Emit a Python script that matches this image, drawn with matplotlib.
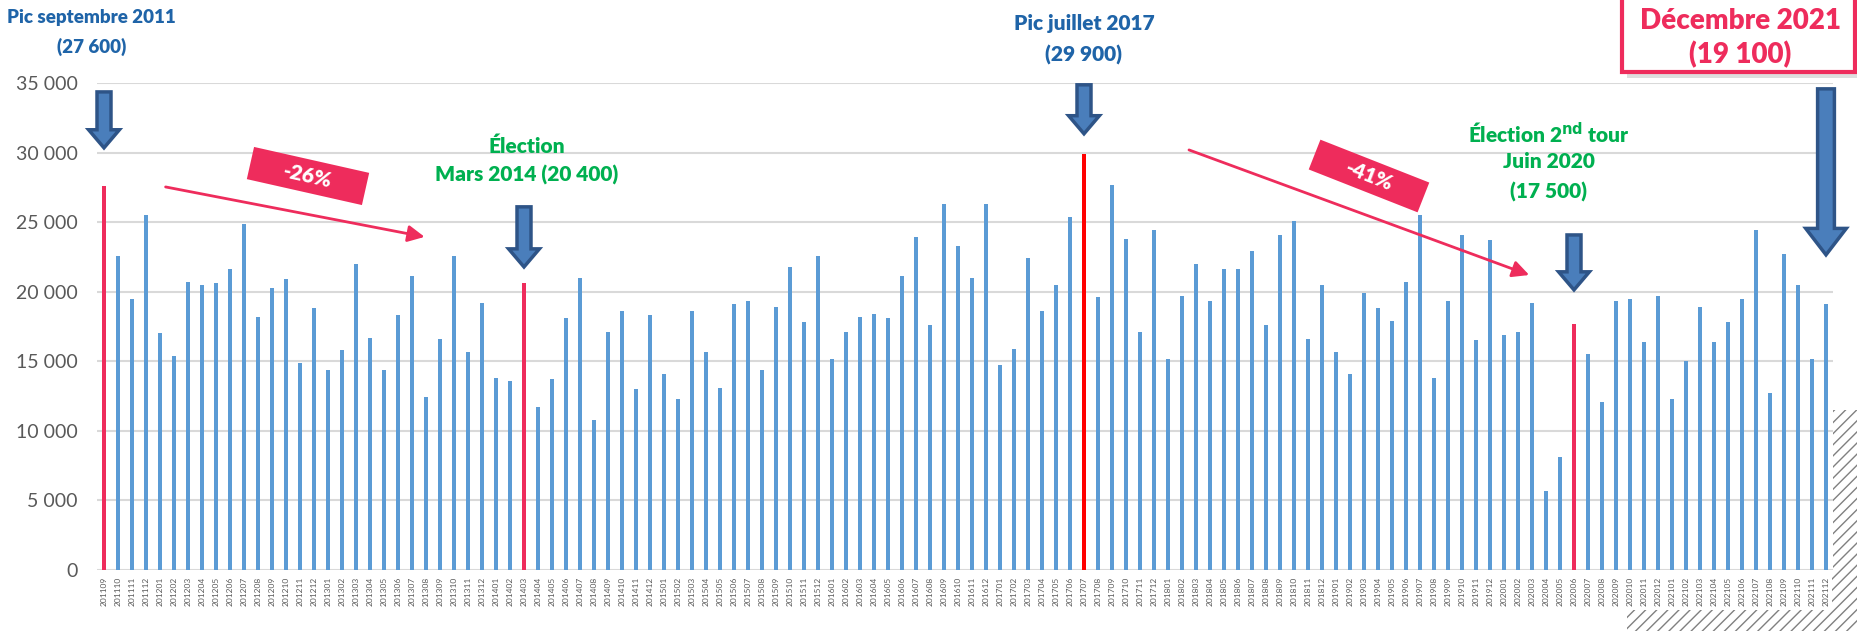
import matplotlib
matplotlib.use('Agg')
import matplotlib.pyplot as plt
from matplotlib.patches import FancyArrow, Rectangle, Polygon
from matplotlib.transforms import Affine2D
from matplotlib.ticker import FuncFormatter

plt.rcParams['font.family'] = ['Lato', 'DejaVu Sans']

# monthly values, sept 2011 -> dec 2021
v2011 = [27600, 22600, 19500, 25500]
v2012 = [17000, 15400, 20700, 20500, 20600, 21600, 24900, 18200, 20300, 20900, 14900, 18800]
v2013 = [14400, 15800, 22000, 16700, 14400, 18300, 21100, 12400, 16600, 22600, 15700, 19200]
v2014 = [13800, 13600, 20600, 11700, 13700, 18100, 21000, 10800, 17100, 18600, 13000, 18300]
v2015 = [14100, 12300, 18600, 15700, 13100, 19100, 19300, 14400, 18900, 21800, 17800, 22600]
v2016 = [15200, 17100, 18200, 18400, 18100, 21100, 23900, 17600, 26300, 23300, 21000, 26300]
v2017 = [14700, 15900, 22400, 18600, 20500, 25400, 29900, 19600, 27700, 23800, 17100, 24400]
v2018 = [15200, 19700, 22000, 19300, 21600, 21600, 22900, 17600, 24100, 25100, 16600, 20500]
v2019 = [15700, 14100, 19900, 18800, 17900, 20700, 25500, 13800, 19300, 24100, 16500, 23700]
v2020 = [16900, 17100, 19200, 5700, 8100, 17700, 15500, 12100, 19300, 19500, 16400, 19700]
v2021 = [12300, 15000, 18900, 16400, 17800, 19500, 24400, 12700, 22700, 20500, 15200, 19100]

values = v2011 + v2012 + v2013 + v2014 + v2015 + v2016 + v2017 + v2018 + v2019 + v2020 + v2021
months = ['2011%02d' % m for m in range(9, 13)] + \
         ['%d%02d' % (y, m) for y in range(2012, 2022) for m in range(1, 13)]

# highlighted months
highlight = {'201109': '#EE2C5C', '201403': '#EE2C5C', '201707': '#FF0000', '202006': '#EE2C5C'}

blue = '#5B9BD5'
pink = '#EE2C5C'
txt_blue = '#1F64A8'
txt_green = '#00B050'

W, H = 1858, 631
fig = plt.figure(figsize=(W / 100, H / 100), dpi=100)
ax = fig.add_axes([97 / W, 61 / H, 1736 / W, 487 / H])

x = list(range(len(months)))
colors = [highlight.get(m, blue) for m in months]
ax.bar(x, values, width=0.33, color=colors, zorder=3)

ax.set_xlim(-0.5, len(months) - 0.5)
ax.set_ylim(0, 35000)
ax.set_yticks(range(0, 35001, 5000))
ax.yaxis.set_major_formatter(FuncFormatter(lambda v, p: f'{int(v):,}'.replace(',', ' ')))
ax.set_xticks(x)
ax.set_xticklabels(months, rotation=90, fontsize=6, color='#595959')
ax.tick_params(axis='y', labelsize=14, colors='#595959', length=0, pad=14)
ax.tick_params(axis='x', length=0, pad=5)
ax.grid(axis='y', color='#D9D9D9', linewidth=1.5, zorder=0)
for s in ax.spines.values():
    s.set_visible(False)


# block arrows pointing down
def down_arrow(xi, y0, y1, w=1.0, hw=2.2, hl=1300):
    a = FancyArrow(xi, y0, 0, y1 - y0, width=w, head_width=hw, head_length=hl,
                   length_includes_head=True, facecolor='#4A7EBB', edgecolor='#2E5487',
                   linewidth=2.5, clip_on=False, zorder=5)
    ax.add_patch(a)


down_arrow(0, 34360, 30340)
down_arrow(30, 26100, 21780)
down_arrow(70, 34870, 31350)
down_arrow(105, 24080, 20130)
down_arrow(123, 34580, 22650, w=1.2, hw=2.9, hl=1900)

# texts
tk = dict(ha='center', va='center', fontweight='heavy', clip_on=False, zorder=6)
ax.text(-0.9, 39680, 'Pic septembre 2011', color=txt_blue, fontsize=13.5, **tk)
ax.text(-0.9, 37600, '(27 600)', color=txt_blue, fontsize=13.5, **tk)
ax.text(30.2, 30480, 'Élection', color=txt_green, fontsize=15, **tk)
ax.text(30.2, 28400, 'Mars 2014 (20 400)', color=txt_green, fontsize=15, **tk)
ax.text(70, 39250, 'Pic juillet 2017', color=txt_blue, fontsize=15, **tk)
ax.text(70, 37020, '(29 900)', color=txt_blue, fontsize=15, **tk)
ax.text(103.2, 31420, 'Élection 2$^{\\mathbf{nd}}$ tour', color=txt_green, fontsize=15, **tk)
ax.text(103.2, 29330, 'Juin 2020', color=txt_green, fontsize=15, **tk)
ax.text(103.2, 27170, '(17 500)', color=txt_green, fontsize=15, **tk)
ax.text(116.9, 39470, 'Décembre 2021', color=pink, fontsize=20, **tk)
ax.text(116.9, 37020, '(19 100)', color=pink, fontsize=20, **tk)


# percentage tags: rotated boxes in output pixels
def tag(cx, cy, w, h, ang, label):
    cy = H - cy
    r = Rectangle((cx - w / 2, cy - h / 2), w, h, facecolor=pink, edgecolor='none',
                  transform=Affine2D().rotate_deg_around(cx, cy, -ang), zorder=6)
    fig.add_artist(r)
    fig.text(cx / W, cy / H, label, color='white', fontsize=15, fontweight='heavy',
             rotation=-ang, rotation_mode='anchor', ha='center', va='center', zorder=7)


tag(308, 176, 118, 33, 12.7, '-26%')
tag(1369, 176, 117, 32, 21.5, '-41%')

ax.annotate('', xy=(22.9, 23940), xytext=(4.4, 27530),
            arrowprops=dict(arrowstyle='-|>,head_length=1.0,head_width=0.5', color=pink, lw=2,
                            shrinkA=0, shrinkB=0), zorder=6)
ax.annotate('', xy=(101.8, 21200), xytext=(77.5, 30190),
            arrowprops=dict(arrowstyle='-|>,head_length=1.0,head_width=0.5', color=pink, lw=2,
                            shrinkA=0, shrinkB=0), zorder=6)

# décembre box (figure pixels)
fig.patches.append(Rectangle((1627 / W, 1 - 78 / H), 235 / W, 90 / H, transform=fig.transFigure,
                             facecolor='#C8C8C8', edgecolor='none', alpha=0.6, zorder=-2))
fig.patches.append(Rectangle((1622 / W, 1 - 72 / H), 233 / W, 80 / H, transform=fig.transFigure,
                             facecolor='white', edgecolor=pink, linewidth=3, zorder=-1))

# hatched corner
hx = [1627, 1858, 1858, 1832, 1832, 1627]
hy = [631, 631, 410, 410, 610, 610]
fig.patches.append(Polygon([(a / W, 1 - b / H) for a, b in zip(hx, hy)], closed=True,
                           transform=fig.transFigure, facecolor='none', edgecolor='#808080',
                           hatch='///', linewidth=0, zorder=-1))

fig.savefig('out.png', dpi=100)
